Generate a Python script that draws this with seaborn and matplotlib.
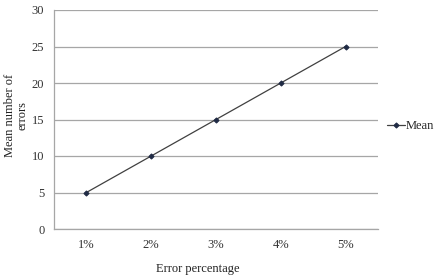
import matplotlib
matplotlib.use("Agg")
import matplotlib.pyplot as plt
import seaborn as sns
import pandas as pd
import numpy as np

categories = ["1%", "2%", "3%", "4%", "5%"]
mean_errors = [5, 10, 15, 20, 25]
y_ticks = [0, 5, 10, 15, 20, 25, 30]

sns.set_style("white")
plt.rcParams['font.family'] = ['Liberation Serif', 'DejaVu Serif']

df = pd.DataFrame({"pos": np.arange(len(categories)), "Mean": mean_errors})

fig = plt.figure(figsize=(4.36, 2.79), dpi=100)
ax = fig.add_axes([54/436, 1-229/279, 324/436, 219/279])

sns.lineplot(data=df, x="pos", y="Mean", ax=ax, color="#404040", linewidth=0.9,
             marker="D", markersize=2.6, markerfacecolor="#1f2a44",
             markeredgecolor="#1f2a44", label="Mean")

ax.set_xlim(-0.5, len(categories) - 0.5)
ax.set_ylim(0, 30)
ax.set_yticks(y_ticks)
ax.set_yticklabels([str(v) for v in y_ticks], fontsize=9, color="#333333")
ax.set_xticks(np.arange(len(categories)))
ax.set_xticklabels(categories, fontsize=9, color="#333333")
ax.set_xticks(np.arange(len(categories) + 1) - 0.5, minor=True)
ax.tick_params(axis="x", which="major", length=0, pad=7)
ax.tick_params(axis="x", which="minor", length=4, color="#999999", direction="out")
ax.tick_params(axis="y", length=4, color="#999999", direction="out", pad=3)

ax.grid(axis="y", color="#a6a6a6", linewidth=0.9)
ax.set_axisbelow(True)
for s in ["top", "right"]:
    ax.spines[s].set_visible(False)
for s in ["left", "bottom"]:
    ax.spines[s].set_color("#a6a6a6")
    ax.spines[s].set_linewidth(0.9)

ax.set_xlabel("Error percentage", fontsize=9, color="#222222")
ax.xaxis.set_label_coords(0.444, -0.155)
ax.set_ylabel("Mean number of\nerrors", fontsize=9, color="#222222", linespacing=1.0)
ax.yaxis.set_label_coords(-0.08, 0.52)

leg = ax.legend(loc="center left", bbox_to_anchor=(387/436, 1-126/279),
                bbox_transform=fig.transFigure, frameon=False, fontsize=9,
                handlelength=1.4, handletextpad=0.1, borderaxespad=0, borderpad=0)

fig.savefig("out.png", dpi=100)
